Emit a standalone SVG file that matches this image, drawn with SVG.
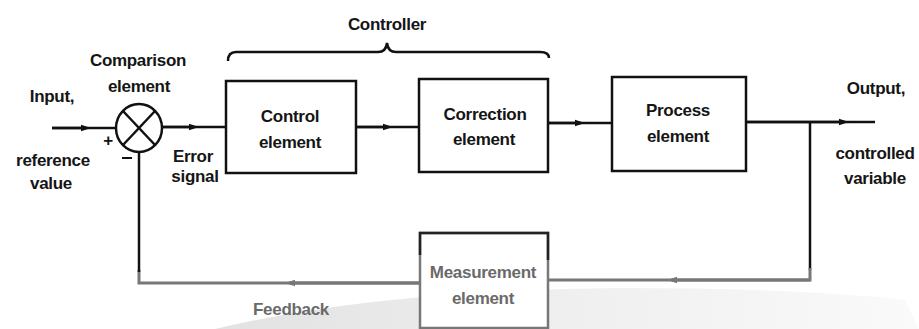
<svg xmlns="http://www.w3.org/2000/svg" width="919" height="329" viewBox="0 0 919 329">
<style>
text{font-family:"Liberation Sans",Arial,sans-serif;font-size:17px;font-weight:bold;fill:#151515;text-anchor:middle;letter-spacing:-0.3px}
.blk{fill:none;stroke:#111;stroke-width:2.5}
.box{fill:#fff;stroke:#111;stroke-width:2.5}
.gl{fill:none;stroke:#777;stroke-width:3}
.gt{fill:#6a6a6a}
</style>
<defs>
<marker id="ah" markerWidth="10" markerHeight="8" refX="5" refY="4" orient="auto" markerUnits="userSpaceOnUse">
<path d="M0,0.8 L10,4 L0,7.2 Z" fill="#111"/>
</marker>
<marker id="ahg" markerWidth="10" markerHeight="8" refX="5" refY="4" orient="auto" markerUnits="userSpaceOnUse">
<path d="M0,0.8 L10,4 L0,7.2 Z" fill="#777"/>
</marker>
<linearGradient id="sw" x1="0" y1="0" x2="1" y2="0">
<stop offset="0" stop-color="#e2e2e2"/>
<stop offset="0.5" stop-color="#efefef"/>
<stop offset="1" stop-color="#fafafa"/>
</linearGradient>
</defs>
<rect width="919" height="329" fill="#fff"/>
<path d="M215,329 Q380,290 620,288 Q800,288 905,300 L919,329 Z" fill="url(#sw)"/>

<g id="connectors">
<line class="blk" x1="52" y1="128" x2="116" y2="128"/>
<line class="blk" x1="52" y1="128" x2="86" y2="128" marker-end="url(#ah)"/>
<line class="blk" x1="162" y1="127" x2="226" y2="127"/>
<line class="blk" x1="162" y1="127" x2="194" y2="127" marker-end="url(#ah)"/>
<line class="blk" x1="356" y1="127" x2="420" y2="127"/>
<line class="blk" x1="356" y1="127" x2="388" y2="127" marker-end="url(#ah)"/>
<line class="blk" x1="548" y1="123" x2="612" y2="123" stroke-width="3"/>
<line class="blk" x1="548" y1="123" x2="580" y2="123" marker-end="url(#ah)"/>
<line class="blk" x1="746" y1="122" x2="875" y2="122"/>
<line class="blk" x1="746" y1="122" x2="844" y2="122" marker-end="url(#ah)"/>
<line class="blk" x1="810" y1="122" x2="810" y2="270"/>
<polyline class="gl" points="810,268 810,280 548,280"/>
<line class="gl" x1="810" y1="280" x2="672" y2="280" marker-end="url(#ahg)"/>
<polyline class="gl" points="420,283 139,283 139,270"/>
<line class="gl" x1="420" y1="283" x2="290" y2="283" marker-end="url(#ahg)"/>
<line class="blk" x1="139" y1="151" x2="139" y2="272"/>
<path class="blk" d="M228,61 Q228,52 236,52 L378,52 Q386,52 387,43 Q388,52 396,52 L540,52 Q549,52 549,58" stroke-width="2.2"/>
</g>

<g id="comparison">
<ellipse cx="139" cy="128" rx="23" ry="24" fill="#fff" stroke="#111" stroke-width="2.5"/>
<line class="blk" x1="123" y1="111" x2="155" y2="145"/>
<line class="blk" x1="155" y1="111" x2="123" y2="145"/>
<text x="138" y="66">Comparison</text>
<text x="139" y="92">element</text>
<text x="108" y="146" font-size="15">+</text>
<line x1="122" y1="158" x2="132" y2="158" stroke="#111" stroke-width="2"/>
</g>

<g id="input">
<text x="52" y="102">Input,</text>
<text x="53" y="166">reference</text>
<text x="51" y="189">value</text>
</g>

<g id="error">
<text x="193" y="162">Error</text>
<text x="195" y="182">signal</text>
</g>

<g id="controller-label">
<text x="387" y="30">Controller</text>
</g>

<g id="control">
<rect class="box" x="226" y="81" width="130" height="92"/>
<text x="290" y="122">Control</text>
<text x="290" y="148">element</text>
</g>

<g id="correction">
<rect class="box" x="419" y="79" width="129" height="93"/>
<text x="485" y="120">Correction</text>
<text x="484" y="145">element</text>
</g>

<g id="process">
<rect class="box" x="612" y="77" width="134" height="94"/>
<text x="678" y="116">Process</text>
<text x="678" y="142">element</text>
</g>

<g id="output">
<text x="876" y="94">Output,</text>
<text x="875" y="159">controlled</text>
<text x="875" y="184">variable</text>
</g>

<g id="measurement">
<rect x="420" y="233" width="128" height="95" fill="#fff" stroke="#777" stroke-width="2.5"/>
<polyline points="420,255 420,233 548,233 548,260" fill="none" stroke="#222" stroke-width="2.5"/>
<text class="gt" x="483" y="278">Measurement</text>
<text class="gt" x="483" y="304">element</text>
</g>

<g id="feedback">
<text class="gt" x="291" y="315">Feedback</text>
</g>
</svg>
